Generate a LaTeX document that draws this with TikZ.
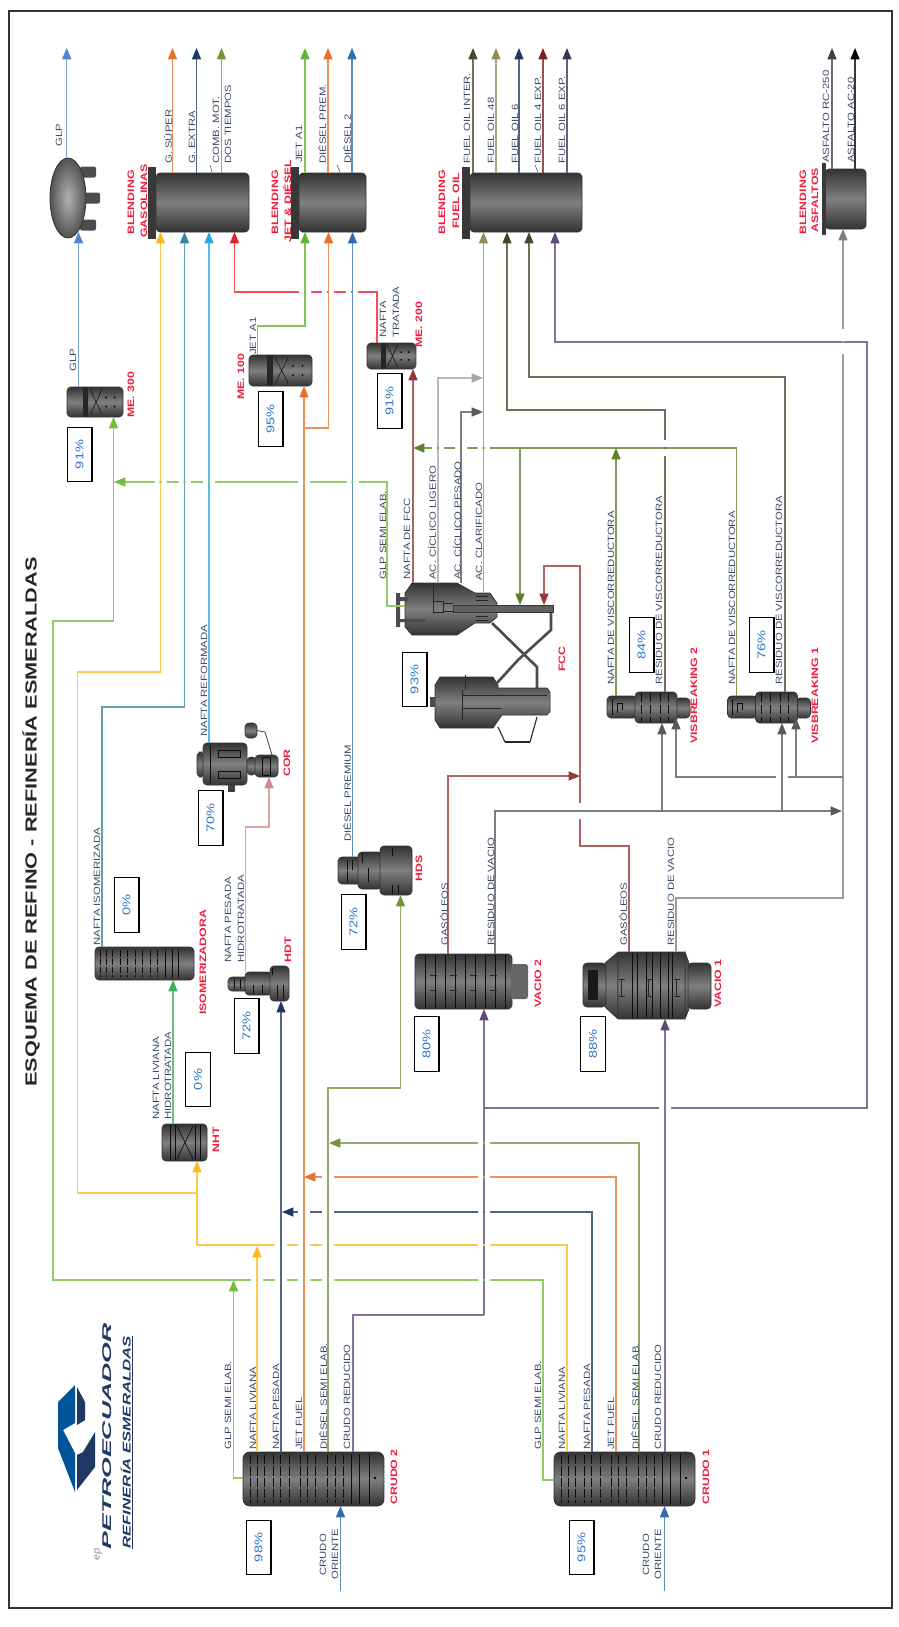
\documentclass[tikz,border=0pt]{standalone}
\usepackage{fontspec}
\setmainfont{Liberation Sans}
\usepackage{tikz}
\usetikzlibrary{arrows.meta,fit,shapes.geometric}
\definecolor{cGlp}{HTML}{4F86CC}
\definecolor{cSuper}{HTML}{E8702A}
\definecolor{cExtra}{HTML}{1F3864}
\definecolor{cComb}{HTML}{77933C}
\definecolor{cLiv}{HTML}{FFB81C}
\definecolor{cIso}{HTML}{31859C}
\definecolor{cRef}{HTML}{29A8E0}
\definecolor{cTrat}{HTML}{EE1C25}
\definecolor{cJet}{HTML}{5CB531}
\definecolor{cDsl}{HTML}{2F6CB0}
\definecolor{cOilA}{HTML}{4A452A}
\definecolor{cOilB}{HTML}{948A54}
\definecolor{cOilD}{HTML}{7B1F1F}
\definecolor{cOilE}{HTML}{403152}
\definecolor{cRed}{HTML}{60497A}
\definecolor{cSemi}{HTML}{74BC3C}
\definecolor{cSem}{HTML}{76933C}
\definecolor{cVis}{HTML}{5F7F2A}
\definecolor{cGas}{HTML}{953735}
\definecolor{cRes}{HTML}{595959}
\definecolor{cHdt}{HTML}{D08A88}
\definecolor{cNht}{HTML}{3FAE57}
\definecolor{cAsf}{HTML}{404040}
\definecolor{cLig}{HTML}{A6A6A6}
\definecolor{cMid}{HTML}{7F7F7F}
\definecolor{cLbl}{HTML}{3B4A6B}
\definecolor{cUnit}{HTML}{F01C3C}
\definecolor{cPct}{HTML}{2E75C8}
\tikzset{
 vessel/.style={draw=black!80,line width=.5pt,top color=black!80,bottom color=black!80,middle color=black!50,inner sep=0pt,outer sep=0pt,rounded corners=3pt},
 tray/.style={draw=black!95,line width=.7pt},
 flow/.style={draw=#1!78,line width=1pt,-{Triangle[width=6.75pt,length=8.5pt,color=#1]}},
 pipe/.style={draw=#1!78,line width=1pt},
 lbl/.style={rotate=90,xscale=1.25,anchor=west,inner sep=0pt,text=cLbl,font=\fontsize{6.8}{7}\selectfont},
 unit/.style={rotate=90,xscale=1.32,anchor=west,inner sep=0pt,text=cUnit,font=\bfseries\fontsize{7}{7}\selectfont},
 pct/.style={draw=black,line width=1pt,rotate=90,xscale=1.3,minimum width=31.5pt,minimum height=18.5pt,inner sep=0pt,text=cPct,font=\fontsize{8.4}{9}\selectfont},
}
\newcommand{\mevessel}[5]{%
 \node[vessel,fit={(#2,#3)(#4,#5)}] (#1) {};
 \fill[black!85] ({#2+.29*(#4-#2)},#3) rectangle ({#2+.38*(#4-#2)},#5);
 \draw[tray,line width=.4pt] ({#2+.42*(#4-#2)},{#3+.1*(#5-#3)}) -- ({#2+.62*(#4-#2)},{#5-.1*(#5-#3)}) ({#2+.42*(#4-#2)},{#5-.1*(#5-#3)}) -- ({#2+.62*(#4-#2)},{#3+.1*(#5-#3)});
 \foreach \dx in {.7,.85} \foreach \dy in {.35,.65} \fill[black] ({#2+\dx*(#4-#2)},{#3+\dy*(#5-#3)}) circle (1);
}
\begin{document}
\begin{tikzpicture}[x=.75pt,y=-.75pt]
\useasboundingbox (0,0) rectangle (899,1627);
\fill[white] (0,0) rectangle (899,1627);
\draw[black!80,line width=.9pt] (9,11) rectangle (892,1608);

\foreach \y/\a/\b in {172/80/96,198/78/100,225/80/96} \fill[black!70,rounded corners=1.5pt] (\a,\y-5.5) rectangle (\b,\y+5.5);
\node[ellipse,draw=black!80,line width=.6pt,inner color=black!30,outer color=black!68,minimum width=27pt,minimum height=60pt,inner sep=0pt] (tank) at (68,198) {};
\coordinate (tankin) at (78.5,232);

\foreach \a/\b/\n in {156/249/blgas,299/366/bljet,470/582/blfuel} {
 \node[vessel,fit={(\a,173)(\b,232)}] (\n) {};
 \fill[black!78] (\a-8,167) rectangle (\a,239);
}
\node[vessel,fit={(825,169)(866,229)}] (blasf) {};
\fill[black!78] (822,163) rectangle (826,235);
\foreach \a/\b in {210/212,337/340,535/538} \draw[black!70,line width=.4pt] (\a,165) -- (\b,172);
\foreach \a in {210,225,350,342,550,535,860} \fill[black!60] (\a,205-\a/60) circle (.7);

\mevessel{mea}{67}{387}{123}{417}
\mevessel{meb}{249}{355}{312}{386}
\mevessel{mec}{367}{343}{416}{369}

\node[vessel,fit={(95,947)(194,980)}] (isom) {};
\foreach \x in {100,106,112,120,127,135,142,150,157} \draw[tray,dash pattern=on 5pt off 1.2pt] (\x,950) -- (\x,977);
\foreach \x in {165,172,178} \draw[tray] (\x,949) -- (\x,978);

\node[vessel,fit={(162,1124)(207,1161)}] (nht) {};
\foreach \x in {170,175,195,200} \draw[tray,line width=.5pt] (\x,1125) -- (\x,1160);
\draw[tray,line width=.5pt] (177,1126) -- (193,1159) (177,1159) -- (193,1126);

\node[vessel,fit={(228,977)(250,991)}] (hdtin) {};
\node[vessel,fit={(245,972)(272,995)}] (hdtmid) {};
\node[vessel,fit={(270,966)(289,1001)}] (hdtmain) {};
\foreach \x/\a/\b in {234/979/989,240/979/989,253/985/994,262/985/994,272/968/975,277/985/999,283/985/999} \draw[tray,line width=.5pt] (\x,\a) -- (\x,\b);

\node[vessel,fit={(338,857)(362,884)}] (hdsin) {};
\node[vessel,fit={(358,852)(382,889)}] (hdsmid) {};
\node[vessel,fit={(380,846)(412,895)}] (hdsmain) {};
\foreach \x/\a/\b in {347/860/870,352/860/870,347/871/882,362/853/863,368/868/882,392/848/856,392/885/894,398/885/894} \draw[tray,line width=.5pt] (\x,\a) -- (\x,\b);

\node[vessel,fit={(197,752)(204,777)}] (corcap) {};
\node[vessel,fit={(203,743)(247,785)}] (cor) {};
\node[vessel,fit={(247,757)(256,775)}] (cormid) {};
\node[vessel,fit={(255,755)(278,777)}] (coroff) {};
\node[vessel,fit={(245,723)(257,738)}] (corbox) {};
\draw[black!75,line width=.6pt] (corbox.east) -- (265,732) -- (272,755);
\fill[black!75] (228,785) rectangle (235,792);
\draw[tray,line width=.5pt] (218,750) rectangle (240,757) (218,771) rectangle (240,778) (210,746) -- (210,783) (262,757) rectangle (270,775);

\foreach \a/\n in {0/visbb,120.5/visba} {
 \node[vessel,fit={(\a+607,696)(\a+637,718)}] (\n-in) {};
 \node[vessel,fit={(\a+675,698)(\a+690,718)}] (\n-out) {};
 \node[vessel,fit={(\a+635,692)(\a+677,723)}] (\n) {};
 \foreach \x in {641,650,660,668} \draw[tray,dash pattern=on 7pt off 2pt] (\a+\x,693) -- (\a+\x,722);
 \draw[tray,line width=.4pt] (\a+612,699) -- (\a+612,715) (\a+617,713) -- (\a+617,703) -- (\a+622,703) -- (\a+622,710);
}

\node[vessel,fit={(415,954)(512,1009)}] (vacb) {};
\fill[black!60,rounded corners=2pt] (511,964) rectangle (528,999);
\foreach \x in {425,435,445,455,465,475,485,495,505} \draw[tray] (\x,955) -- (\x,1008);
\foreach \x in {430,450,470,490} \draw[black!85,line width=.5pt] (\x,975) -- (\x+7,975) (\x,990) -- (\x+7,990);

\path[vessel,sharp corners] (605,963) -- (618,952) -- (618,1019) -- (605,1007) -- cycle;
\node[vessel,fit={(583,963)(606,1007)}] (vacacap) {};
\fill[black!90] (588,970) rectangle (598,1000);
\path[vessel,sharp corners] (685,952) -- (689,963) -- (689,1009) -- (685,1019) -- cycle;
\node[vessel,fit={(688,963)(711,1009)}] (vacaout) {};
\node[vessel,rounded corners=1pt,fit={(618,952)(685,1019)}] (vaca) {};
\foreach \x in {632,637,646,652,660,668,672} \draw[tray] (\x,953) -- (\x,1018);
\foreach \x in {619,646,674} \draw[black!85,line width=.6pt] (\x,979) -- (\x+6,979) (\x,996) -- (\x+6,996) (\x+2,979) -- (\x+2,996);

\path[vessel,sharp corners] (440,677) -- (493,677) -- (498,685) -- (498,688) -- (547,688) -- (550,692) -- (550,712) -- (547,715) -- (502,715) -- (493,728) -- (440,728) -- (435,720) -- (435,685) -- cycle;
\fill[black!70] (430,697) rectangle (435,707);
\draw[black!80,line width=.9pt] (498,727) -- (505,742) (530,742) -- (537,717);
\draw[black!85,line width=1.8pt] (505,742) -- (530,742);
\draw[black!85,line width=.5pt] (462,695) -- (547,695) (462,708) -- (502,708) (465,675) -- (465,690) (462,690) -- (462,720);
\draw[black!70,line width=2pt] (492,623) -- (537,667) -- (537,688);
\draw[black!70,line width=2pt] (551,613) -- (551,630) -- (518,660) -- (497,683);
\path[vessel,sharp corners] (412,583) -- (457,583) -- (475,593) -- (490,593) -- (497,603) -- (497,617) -- (490,623) -- (475,623) -- (457,635) -- (412,635) -- (405,627) -- (405,593) -- cycle;
\fill[black!70] (396,593) rectangle (400,627) (400,597) rectangle (408,601) (400,619) rectangle (425,622);
\draw[black!85,line width=.5pt] (433,583) -- (433,601) (433,601) rectangle (443,612) (443,603) -- (453,603) (443,611) -- (453,611) (476,596) -- (488,596) (476,600) -- (488,600) (476,616) -- (488,616) (476,620) -- (488,620);
\node[draw=black!80,fill=black!62,line width=.5pt,inner sep=0pt,outer sep=0pt,fit={(453,605)(553,612)}] (riser) {};
\node[inner sep=0pt,fit={(405,583)(497,635)}] (reactor) {};

\foreach \a/\n in {243/crudob,554/crudoa} {
 \node[vessel,rounded corners=5pt,fit={(\a,1452)(\a+141,1506)}] (\n) {};
 \foreach \x in {7,14,21,30,37,46,57,64,72,84,92,100} \draw[tray,dash pattern=on 7pt off 1.5pt] (\a+\x,1455) -- (\a+\x,1503);
 \foreach \x in {108,116,126} \draw[tray] (\a+\x,1454) -- (\a+\x,1504);
 \fill[black] (\a+132,1478) circle (1.3);
}

\draw[flow=cGlp] (66.7,0 |- tank.north) -- (66.7,48);
\draw[flow=cGlp] (78.5,0 |- mea.north) -- (tankin);
\draw[flow=cSuper] (172.5,0 |- blgas.north) -- (172.5,48);
\draw[flow=cExtra] (196.5,0 |- blgas.north) -- (196.5,48);
\draw[flow=cComb] (221.5,0 |- blgas.north) -- (221.5,48);
\draw[flow=cJet] (305,0 |- bljet.north) -- (305,48);
\draw[flow=cSuper] (328,0 |- bljet.north) -- (328,48);
\draw[flow=cDsl] (352,0 |- bljet.north) -- (352,48);
\draw[flow=cOilA] (473,0 |- blfuel.north) -- (473,48);
\draw[flow=cOilB] (496,0 |- blfuel.north) -- (496,48);
\draw[flow=cExtra] (519,0 |- blfuel.north) -- (519,48);
\draw[flow=cOilD] (543,0 |- blfuel.north) -- (543,48);
\draw[flow=cOilE] (567,0 |- blfuel.north) -- (567,48);
\draw[flow=cAsf] (832,0 |- blasf.north) -- (832,48);
\draw[flow=black] (855,0 |- blasf.north) -- (855,48);

\draw[flow=cTrat] (377,0 |- mec.north) -- (377,292) -- (234.5,292) -- (234.5,0 |- blgas.south);
\draw[flow=cGas] (413,0 |- reactor.north) -- (413,0 |- mec.south);
\draw[flow=cLig] (438,0 |- reactor.north) -- (438,378) -- (483,378);
\draw[flow=cRes] (461,0 |- reactor.north) -- (461,412) -- (483,412);
\draw[flow=cOilB] (483.5,593) -- (483.5,0 |- blfuel.south);
\draw[flow=cVis] (736.7,0 |- visba-in.north) -- (736.7,448) -- (413,448);
\draw[flow=cVis] (616,0 |- visbb-in.north) -- (616,448);
\draw[flow=cVis] (520,448) -- (520,0 |- riser.north);
\draw[flow=cOilA] (665,0 |- visbb.north) -- (665,410) -- (507,410) -- (507,0 |- blfuel.south);
\draw[flow=cOilA] (785,0 |- visba.north) -- (785,377) -- (529,377) -- (529,0 |- blfuel.south);
\draw[flow=cRed] (484,1108) -- (867,1108) -- (867,342) -- (555,342) -- (555,0 |- blfuel.south);
\draw[pipe=cRed] (353,0 |- crudob.north) -- (353,1315) -- (484,1315);
\draw[flow=cRed] (484,1315) -- (484,0 |- vacb.south);
\draw[flow=cRed] (665,0 |- crudoa.north) -- (665,0 |- vaca.south);

\draw[flow=cSemi] (crudoa.west |- 0,1480) -- (543,1480) -- (543,1280) -- (53,1280) -- (53,621) -- (113.5,621) -- (113.5,0 |- mea.south);
\draw[flow=cSemi] (crudob.west |- 0,1478) -- (233.5,1478) -- (233.5,1280);
\draw[flow=cLiv] (567,0 |- crudoa.north) -- (567,1245) -- (197,1245) -- (197,0 |- nht.south);
\draw[flow=cLiv] (197,1193) -- (77.5,1193) -- (77.5,672) -- (160.5,672) -- (160.5,0 |- blgas.south);
\draw[flow=cLiv] (257,0 |- crudob.north) -- (257,1246);
\draw[flow=cExtra] (592,0 |- crudoa.north) -- (592,1212) -- (282,1212);
\draw[flow=cExtra] (281,0 |- crudob.north) -- (281,0 |- hdtmain.south);
\draw[flow=cSuper] (616,0 |- crudoa.north) -- (616,1177) -- (304,1177);
\draw[flow=cSuper] (304,0 |- crudob.north) -- (304,0 |- meb.south);
\draw[flow=cSuper] (304,428) -- (328.5,428) -- (328.5,0 |- bljet.south);
\draw[flow=cSem] (639,0 |- crudoa.north) -- (639,1143) -- (329,1143);
\draw[flow=cSem] (328,0 |- crudob.north) -- (328,1088) -- (400.5,1088) -- (400.5,0 |- hdsmain.south);
\coordinate (orib) at (340.5,1591);
\coordinate (oria) at (664.5,1591);
\draw[flow=cDsl] (orib) -- (orib |- crudob.south);
\draw[flow=cDsl] (oria) -- (oria |- crudoa.south);

\draw[flow=cNht] (173,0 |- nht.north) -- (173,0 |- isom.south);
\draw[flow=cIso] (102,0 |- isom.north) -- (102,707) -- (184.5,707) -- (184.5,0 |- blgas.south);
\draw[flow=cRef] (209,0 |- cor.north) -- (209,0 |- blgas.south);
\draw[flow=cHdt] (245.5,0 |- hdtmid.north) -- (245.5,827) -- (269,827) -- (269,0 |- coroff.south);
\draw[flow=cJet] (257.5,0 |- meb.north) -- (257.5,326) -- (305,326) -- (305,0 |- bljet.south);
\draw[flow=cDsl] (352.5,0 |- hdsin.north) -- (352.5,0 |- bljet.south);
\draw[flow=cSemi] (reactor.west |- 0,606) -- (387,606) -- (387,482) -- (114,482);
\draw[flow=cGas] (448,0 |- vacb.north) -- (448,776) -- (580,776);
\draw[flow=cGas] (629,0 |- vaca.north) -- (629,846) -- (580,846) -- (580,566) -- (544,566) -- (544,0 |- riser.north);
\draw[flow=cRes] (495,0 |- vacb.north) -- (495,811) -- (842,811);
\draw[flow=cRes] (662,811) -- (662,0 |- visbb.south);
\draw[flow=cRes] (782,811) -- (782,0 |- visba.south);
\draw[flow=cMid] (676,0 |- vaca.north) -- (676,898) -- (843,898) -- (843,0 |- blasf.south);
\draw[flow=cRes] (843,777) -- (676,777) -- (676,0 |- visbb-out.south);
\draw[flow=cRes] (796,777) -- (796,0 |- visba-out.south);

\foreach \x/\y in {305/292,328/292,352/292,160.5/482,184.5/482,209/482,304/482,352.5/482,438/448,461/448,483.5/448,484/1280,328/1280,304/1280,281/1280,257/1280,484/1245,328/1245,304/1245,281/1245,484/1212,328/1212,304/1212,484/1177,328/1177,484/1143,665/1108,782/777} {
 \fill[white] (\x-6,\y-2.5) rectangle (\x-1.2,\y+2.5) (\x+1.2,\y-2.5) rectangle (\x+6,\y+2.5);
}
\foreach \x/\y in {665/448,580/811} {
 \fill[white] (\x-2.5,\y-8) rectangle (\x+2.5,\y-1.2) (\x-2.5,\y+1.2) rectangle (\x+2.5,\y+8);
}
\fill[white] (841,329) rectangle (846,341) (841,343) rectangle (846,354);

\foreach \x/\y/\t in {59/147/GLP,168/164/G. SÚPER,192/164/G. EXTRA,216/164/COMB. MOT.,228/164/DOS TIEMPOS,299/163/JET A1,322/164/DIÉSEL PREM.,347/164/DIÉSEL 2,
 467/164/FUEL OIL INTER.,491/164/FUEL OIL 48,515/164/FUEL OIL 6,538/164/FUEL OIL 4 EXP.,562/164/FUEL OIL 6 EXP.,826/163/ASFALTO RC-250,851/163/ASFALTO AC-20,
 73/372/GLP,253/355/JET A1,383/338/NAFTA,396/338/TRATADA,204/737/NAFTA REFORMADA,347/842/DIÉSEL PREMIUM,383/580/GLP SEMI ELAB.,407/580/NAFTA DE FCC,432/580/AC. CÍCLICO LIGERO,
 457/580/AC. CÍCLICO PESADO,479/581/AC. CLARIFICADO,611/685/NAFTA DE VISCORREDUCTORA,659/685/RESIDUO DE VISCORREDUCTORA,732/685/NAFTA DE VISCORREDUCTORA,779/685/RESIDUO DE VISCORREDUCTORA,
 97/946/NAFTA ISOMERIZADA,228/963/NAFTA PESADA,241/963/HIDROTRATADA,156/1120/NAFTA LIVIANA,168/1120/HIDROTRATADA,444/946/GASÓLEOS,491/946/RESIDUO DE VACIO,623/946/GASÓLEOS,671/946/RESIDUO DE VACIO,
 228/1450/GLP SEMI ELAB.,253/1450/NAFTA LIVIANA,276/1450/NAFTA PESADA,299/1450/JET FUEL,323/1450/DIÉSEL SEMI ELAB.,347/1450/CRUDO REDUCIDO,323/1576/CRUDO,335/1580/ORIENTE,
 538/1450/GLP SEMI ELAB.,562/1450/NAFTA LIVIANA,587/1450/NAFTA PESADA,611/1450/JET FUEL,635/1450/DIÉSEL SEMI ELAB.,658/1450/CRUDO REDUCIDO,646/1576/CRUDO,658/1580/ORIENTE} {
 \node[lbl] (lb-\x-\y) at (\x,\y) {\t};
}
\foreach \x/\y/\t in {131/235/BLENDING,144/238/GASOLINAS,275/235/BLENDING,287/243/JET \& DIÉSEL,442/235/BLENDING,456/229/FUEL OIL,803/235/BLENDING,815/233/ASFALTOS,
 131/418/ME. 300,241/400/ME. 100,419/348/ME. 200,287/777/COR,562/672/FCC,694/744/VISBREAKING 2,815/744/VISBREAKING 1,203/1015/ISOMERIZADORA,288/963/HDT,419/882/HDS,216/1153/NHT,
 538/1008/VACIO 2,718/1008/VACIO 1,394/1505/CRUDO 2,706/1505/CRUDO 1} {
 \node[unit] (un-\x-\y) at (\x,\y) {\t};
}
\foreach \x/\y/\t in {79.5/454.5/91,270.5/419/95,389.5/401/91,414.5/679.5/93,210.5/818/70,126.5/905/0,198/1079.5/0,246.5/1026/72,353.5/922/72,426.5/1044/80,593/1044/88,641.5/645/84,761.5/645/76,258.5/1547.5/98,581.5/1547.5/95} {
 \node[pct] (pc-\x-\y) at (\x,\y) {\t\%};
}

\node[rotate=90,xscale=1.36,anchor=west,inner sep=0pt,text=black!85,font=\bfseries\fontsize{12}{13}\selectfont] (title) at (31,1087) {ESQUEMA DE REFINO - REFINERÍA ESMERALDAS};

\fill[blue!45!cyan!60!black] (75,1385) -- (58,1402) -- (58,1448) -- (75,1492) -- (75,1453) -- (63,1430) -- (75,1423) -- cycle;
\fill[cExtra] (77,1387) -- (85,1402) -- (85,1420) -- (77,1425) -- cycle (77,1490) -- (95,1467) -- (95,1432) -- (83,1452) -- (77,1455) -- cycle;
\node[rotate=90,xscale=2.1,anchor=west,inner sep=0pt,text=cExtra,font=\bfseries\itshape\fontsize{9.5}{10}\selectfont] (brand) at (107,1550) {PETROECUADOR};
\node[rotate=90,anchor=west,inner sep=0pt,text=black!30,font=\bfseries\itshape\fontsize{8}{9}\selectfont] (brandep) at (98,1561) {ep};
\node[rotate=90,xscale=1.5,anchor=west,inner sep=0pt,text=cExtra,font=\bfseries\itshape\fontsize{8.4}{9}\selectfont] (site) at (127,1549) {\underline{REFINERÍA ESMERALDAS}};
\end{tikzpicture}
\end{document}
